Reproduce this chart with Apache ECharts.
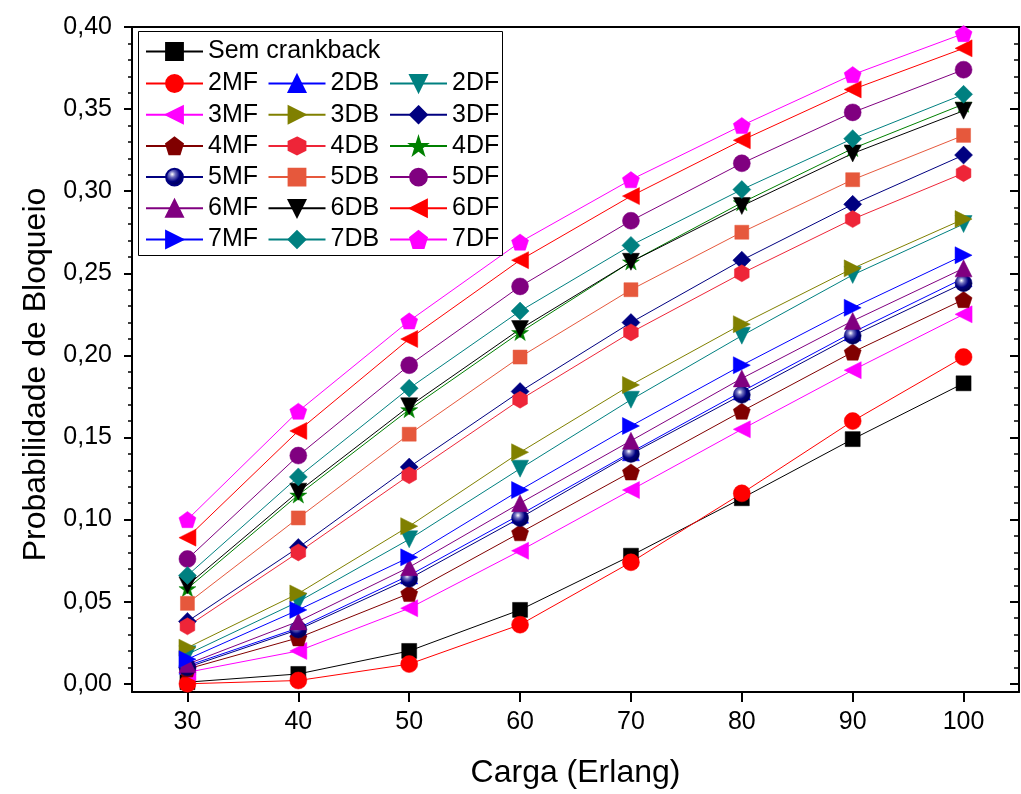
<!DOCTYPE html>
<html><head><meta charset="utf-8">
<script src="https://cdn.jsdelivr.net/npm/echarts@6/dist/echarts.min.js"></script>
<style>html,body{margin:0;padding:0;background:#fff}#c{width:1021px;height:794px}</style>
</head><body><div id="c"></div>
<script>
// ---- data ----
const loads = [30, 40, 50, 60, 70, 80, 90, 100];
const xTicks = [30, 40, 50, 60, 70, 80, 90, 100];
const yTicks = [0, 0.05, 0.10, 0.15, 0.20, 0.25, 0.30, 0.35, 0.40];
const semCrankback = [0.001, 0.006, 0.020, 0.045, 0.078, 0.113, 0.149, 0.183];
const mf2 = [0.000, 0.002, 0.012, 0.036, 0.074, 0.116, 0.160, 0.199];
const db2 = [0.011, 0.034, 0.066, 0.103, 0.141, 0.178, 0.214, 0.247];
const df2 = [0.018, 0.050, 0.088, 0.131, 0.173, 0.212, 0.249, 0.280];
const mf3 = [0.007, 0.020, 0.046, 0.081, 0.118, 0.155, 0.191, 0.225];
const db3 = [0.022, 0.055, 0.096, 0.141, 0.182, 0.219, 0.253, 0.283];
const df3 = [0.038, 0.083, 0.132, 0.178, 0.220, 0.258, 0.292, 0.322];
const mf4 = [0.009, 0.028, 0.055, 0.092, 0.129, 0.166, 0.202, 0.234];
const db4 = [0.035, 0.080, 0.127, 0.173, 0.214, 0.250, 0.283, 0.311];
const df4 = [0.058, 0.115, 0.167, 0.214, 0.257, 0.293, 0.326, 0.353];
const mf5 = [0.010, 0.033, 0.064, 0.101, 0.140, 0.176, 0.212, 0.244];
const db5 = [0.049, 0.101, 0.152, 0.199, 0.240, 0.275, 0.307, 0.334];
const df5 = [0.076, 0.139, 0.194, 0.242, 0.282, 0.317, 0.348, 0.374];
const mf6 = [0.012, 0.038, 0.071, 0.110, 0.148, 0.186, 0.221, 0.253];
const db6 = [0.060, 0.117, 0.169, 0.216, 0.257, 0.291, 0.323, 0.349];
const df6 = [0.089, 0.154, 0.210, 0.258, 0.297, 0.331, 0.362, 0.387];
const mf7 = [0.015, 0.045, 0.077, 0.118, 0.157, 0.194, 0.229, 0.261];
const db7 = [0.066, 0.126, 0.180, 0.227, 0.267, 0.301, 0.332, 0.359];
const df7 = [0.100, 0.166, 0.221, 0.269, 0.307, 0.340, 0.371, 0.396];

// ---- styles ----
const PENT = 'path://M0,-1 L0.951,-0.309 L0.588,0.809 L-0.588,0.809 L-0.951,-0.309 Z';
const HEX = 'path://M0,-1 L0.866,-0.5 L0.866,0.5 L0,1 L-0.866,0.5 L-0.866,-0.5 Z';
const STAR = 'path://M0,-1 L0.2245,-0.309 L0.951,-0.309 L0.363,0.118 L0.588,0.809 L0,0.382 L-0.588,0.809 L-0.363,0.118 L-0.951,-0.309 L-0.2245,-0.309 Z';
const sphere = {type:'radial', x:0.38, y:0.35, r:0.65, colorStops:[
  {offset:0, color:'#ffffff'},{offset:0.25, color:'#7070c0'},{offset:0.6, color:'#000080'},{offset:1, color:'#00004a'}]};

const seriesDefs = [
  {name:'Sem crankback', data:semCrankback, color:'#000000', symbol:'rect', size:15, rot:0},
  {name:'2MF', data:mf2, color:'#ff0000', symbol:'circle', size:17, rot:0},
  {name:'2DB', data:db2, color:'#0000ff', symbol:'triangle', size:17, rot:0},
  {name:'2DF', data:df2, color:'#008080', symbol:'triangle', size:17, rot:180},
  {name:'3MF', data:mf3, color:'#ff00ff', symbol:'triangle', size:17, rot:90},
  {name:'3DB', data:db3, color:'#808000', symbol:'triangle', size:17, rot:-90},
  {name:'3DF', data:df3, color:'#000080', symbol:'diamond', size:18, rot:0},
  {name:'4MF', data:mf4, color:'#800000', symbol:PENT, size:17, rot:0},
  {name:'4DB', data:db4, color:'#ee2538', symbol:HEX, size:17, rot:0},
  {name:'4DF', data:df4, color:'#008000', symbol:STAR, size:17, rot:0},
  {name:'5MF', data:mf5, color:'#000080', fill:sphere, symbol:'circle', size:17, rot:0},
  {name:'5DB', data:db5, color:'#e6583c', symbol:'rect', size:14, rot:0},
  {name:'5DF', data:df5, color:'#800080', symbol:'circle', size:17, rot:0},
  {name:'6MF', data:mf6, color:'#800080', symbol:'triangle', size:17, rot:0},
  {name:'6DB', data:db6, color:'#000000', symbol:'triangle', size:17, rot:180},
  {name:'6DF', data:df6, color:'#ff0000', symbol:'triangle', size:17, rot:90},
  {name:'7MF', data:mf7, color:'#0000ff', symbol:'triangle', size:17, rot:-90},
  {name:'7DB', data:db7, color:'#008080', symbol:'diamond', size:18, rot:0},
  {name:'7DF', data:df7, color:'#ff00ff', symbol:PENT, size:17, rot:0}
];

const yMinor = [];
for (let i = 1; i < 40; i++) if (i % 5 !== 0) yMinor.push(i / 100);

const FONT = 'Liberation Sans, Arial, sans-serif';
const chart = echarts.init(document.getElementById('c'), null, {renderer:'canvas'});

const yBase = {type:'value', min:-0.005, max:0.40, splitLine:{show:false}, gridIndex:0};
const legendBase = {orient:'vertical', padding:0, itemWidth:57, itemHeight:21, itemGap:6.2,
  selectedMode:false, textStyle:{fontFamily:FONT, fontSize:25, color:'#000', lineHeight:25}};

chart.setOption({
  animation:false,
  backgroundColor:'#ffffff',
  grid:[{left:132, right:2, top:27, bottom:102, containLabel:false}],
  xAxis:[
    {type:'value', min:25, max:105, position:'bottom',
     name:'Carga (Erlang)', nameLocation:'middle', nameGap:65,
     nameTextStyle:{fontFamily:FONT, fontSize:32, color:'#000'},
     axisLine:{show:true, onZero:false, lineStyle:{color:'#000', width:2}},
     axisTick:{show:true, customValues:xTicks, length:10, inside:false, lineStyle:{color:'#000', width:2}},
     axisLabel:{show:true, customValues:xTicks, margin:18, fontFamily:FONT, fontSize:25, color:'#000'},
     splitLine:{show:false}},
    {type:'value', min:25, max:105, position:'top',
     axisLine:{show:true, onZero:false, lineStyle:{color:'#000', width:2}},
     axisTick:{show:false}, axisLabel:{show:false}, splitLine:{show:false}}
  ],
  yAxis:[
    Object.assign({}, yBase, {position:'left',
      name:'Probabilidade de Bloqueio', nameLocation:'middle', nameGap:80,
      nameTextStyle:{fontFamily:FONT, fontSize:32, color:'#000', padding:[0, 30, 0, 0]},
      axisLine:{show:true, onZero:false, lineStyle:{color:'#000', width:2}},
      axisTick:{show:true, customValues:yTicks, length:8, lineStyle:{color:'#000', width:2}},
      axisLabel:{show:true, customValues:yTicks, margin:20, fontFamily:FONT, fontSize:25, color:'#000',
        formatter:v => v.toFixed(2).replace('.', ',')}}),
    Object.assign({}, yBase, {position:'left',
      axisLine:{show:false},
      axisTick:{show:true, customValues:yMinor, length:4, lineStyle:{color:'#000', width:1.5}},
      axisLabel:{show:false}}),
    Object.assign({}, yBase, {position:'right',
      axisLine:{show:true, onZero:false, lineStyle:{color:'#000', width:2}},
      axisTick:{show:true, inside:true, customValues:yTicks, length:9, lineStyle:{color:'#000', width:2}},
      axisLabel:{show:false}}),
    Object.assign({}, yBase, {position:'right',
      axisLine:{show:false},
      axisTick:{show:true, inside:true, customValues:yMinor, length:5, lineStyle:{color:'#000', width:1.5}},
      axisLabel:{show:false}})
  ],
  legend:[
    Object.assign({}, legendBase, {left:145, top:39, data:['Sem crankback']}),
    Object.assign({}, legendBase, {left:145, top:71, data:['2MF','3MF','4MF','5MF','6MF','7MF']}),
    Object.assign({}, legendBase, {left:267.5, top:71, data:['2DB','3DB','4DB','5DB','6DB','7DB']}),
    Object.assign({}, legendBase, {left:389, top:71, data:['2DF','3DF','4DF','5DF','6DF','7DF']})
  ],
  graphic:[{type:'rect', shape:{x:138.5, y:31.5, width:364, height:224},
    style:{fill:'none', stroke:'#000', lineWidth:1}, z:100, silent:true}],
  series: seriesDefs.map(d => ({
    type:'line', name:d.name, xAxisIndex:0, yAxisIndex:0,
    data: loads.map((x, i) => [x, d.data[i]]),
    symbol:d.symbol, symbolSize:d.size, symbolRotate:d.rot, symbolKeepAspect:true,
    showAllSymbol:true, clip:false,
    lineStyle:{color:d.color, width:1},
    itemStyle:{color:d.fill || d.color, borderColor:d.color, borderWidth:0.5, opacity:1},
    emphasis:{disabled:true}
  }))
});
</script>
</body></html>
